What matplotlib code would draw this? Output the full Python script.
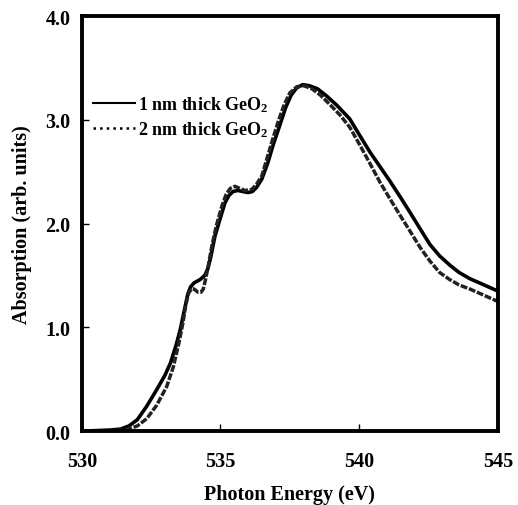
import numpy as np
import matplotlib
matplotlib.use("Agg")
import matplotlib.pyplot as plt
from matplotlib.lines import Line2D

plt.rcParams['font.family'] = ['Liberation Serif', 'DejaVu Serif']
plt.rcParams['font.weight'] = 'bold'
plt.rcParams['mathtext.fontset'] = 'custom'
plt.rcParams['mathtext.rm'] = 'Liberation Serif:bold'
plt.rcParams['mathtext.bf'] = 'Liberation Serif:bold'
plt.rcParams['mathtext.it'] = 'Liberation Serif:bold'

# 1 nm thick GeO2 (solid)
energy_1nm = [530.0, 530.5, 531.0, 531.4, 531.7, 532.0, 532.34, 532.7, 533.0, 533.2,
              533.4, 533.55, 533.7, 533.82, 533.92, 534.05, 534.26, 534.43, 534.55,
              534.65, 534.8, 535.0, 535.16, 535.3, 535.45, 535.63, 535.8, 535.99,
              536.15, 536.3, 536.49, 536.71, 536.9, 537.14, 537.35, 537.55, 537.75,
              537.97, 538.2, 538.5, 538.83, 539.2, 539.66, 540.0, 540.39, 540.75,
              541.11, 541.5, 541.83, 542.2, 542.55, 542.9, 543.27, 543.6, 543.99,
              544.5, 545.0]
absorb_1nm = [0.0, 0.005, 0.01, 0.02, 0.05, 0.11, 0.24, 0.40, 0.54, 0.66,
              0.83, 0.98, 1.17, 1.32, 1.39, 1.43, 1.46, 1.50, 1.57,
              1.68, 1.88, 2.06, 2.20, 2.27, 2.31, 2.32, 2.31, 2.30,
              2.31, 2.35, 2.43, 2.59, 2.76, 2.95, 3.12, 3.24, 3.31,
              3.34, 3.33, 3.30, 3.23, 3.14, 3.01, 2.86, 2.69, 2.55,
              2.41, 2.25, 2.11, 1.95, 1.80, 1.69, 1.60, 1.53, 1.47,
              1.41, 1.35]

# 2 nm thick GeO2 (dotted)
energy_2nm = [530.0, 530.5, 531.0, 531.5, 531.8, 532.0, 532.34, 532.7, 533.06, 533.3,
              533.5, 533.65, 533.75, 533.85, 533.95, 534.05, 534.18, 534.3, 534.38,
              534.45, 534.55, 534.7, 534.85, 535.05, 535.2, 535.35, 535.52, 535.7,
              535.88, 536.13, 536.3, 536.49, 536.7, 536.9, 537.1, 537.3, 537.5,
              537.75, 538.0, 538.3, 538.6, 538.94, 539.3, 539.66, 540.0, 540.39,
              540.75, 541.11, 541.5, 541.83, 542.2, 542.55, 542.9, 543.27, 543.6,
              543.99, 544.5, 545.0]
absorb_2nm = [0.0, 0.003, 0.005, 0.012, 0.03, 0.05, 0.12, 0.25, 0.43, 0.62,
              0.85, 1.05, 1.22, 1.33, 1.37, 1.37, 1.34, 1.34, 1.37,
              1.45, 1.58, 1.80, 1.98, 2.17, 2.28, 2.34, 2.36, 2.34,
              2.32, 2.33, 2.38, 2.46, 2.65, 2.83, 3.00, 3.15, 3.26,
              3.32, 3.33, 3.30, 3.24, 3.15, 3.05, 2.93, 2.77, 2.58,
              2.40, 2.24, 2.07, 1.93, 1.77, 1.64, 1.53, 1.46, 1.41,
              1.37, 1.31, 1.25]

fig = plt.figure(figsize=(5.18, 5.06), dpi=100)
ax = fig.add_axes([0.158, 0.146, 0.803, 0.820])

ax.plot(energy_1nm, absorb_1nm, color="black", lw=2.6, solid_joinstyle="round")
ax.plot(energy_2nm, absorb_2nm, color="#222222", lw=2.5, linestyle=(0, (2, 0.5)))

ax.set_xlim(530, 545)
ax.set_ylim(0, 4)
ax.set_xticks([530, 535, 540, 545])
ax.set_yticks([0, 1, 2, 3, 4])
ax.set_yticklabels(["0.0", "1.0", "2.0", "3.0", "4.0"])
ax.tick_params(direction="in", length=5, width=1, labelsize=14.5)
ax.tick_params(axis="x", pad=14)
ax.tick_params(axis="y", pad=8)
for s in ax.spines.values():
    s.set_linewidth(2.8)

ax.set_xlabel("Photon Energy (eV)", fontsize=14.5, fontweight="bold", labelpad=10)
ax.set_ylabel("Absorption (arb. units)", fontsize=14.5, fontweight="bold", labelpad=10)

handles = [Line2D([], [], color="black", lw=1.5),
           Line2D([], [], color="black", lw=1.8, linestyle=":")]
ax.legend(handles, ["1 nm thick GeO$_2$", "2 nm thick GeO$_2$"],
          loc="upper left", bbox_to_anchor=(0.01, 0.83), frameon=False,
          fontsize=13, handlelength=2.3, handletextpad=0.2, labelspacing=0.3,
          borderaxespad=0)

fig.savefig("out.png", dpi=100)
